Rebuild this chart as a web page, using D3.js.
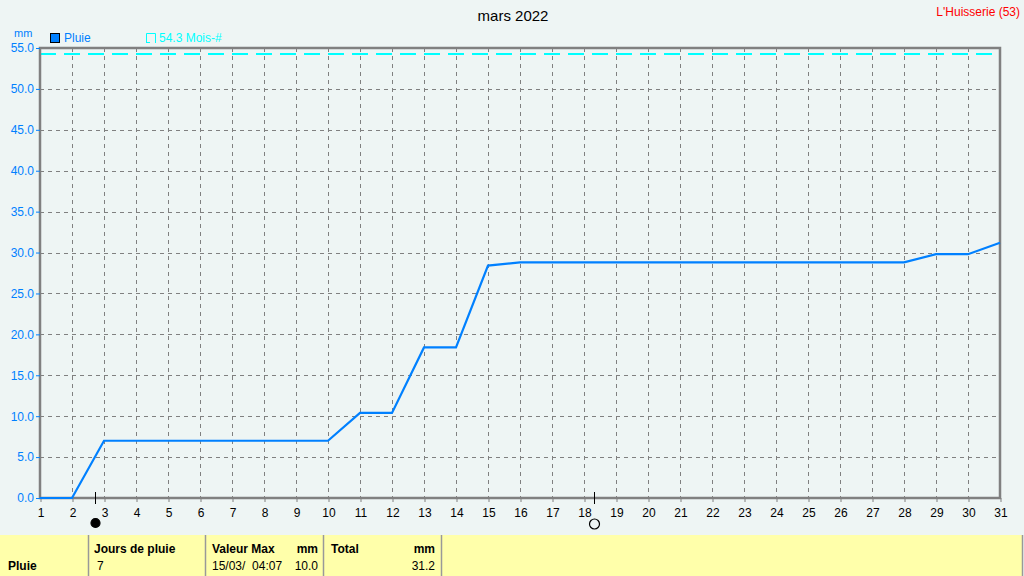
<!DOCTYPE html>
<html><head><meta charset="utf-8">
<script src="https://cdn.jsdelivr.net/npm/d3@7"></script>
<style>
html,body{margin:0;padding:0;background:#EEF5F4;}
svg{display:block;font-family:"Liberation Sans",Arial,sans-serif;}
</style></head>
<body>
<svg id="c" width="1024" height="576"></svg>
<script>
const days = d3.range(1, 32);
const rainCumul = [0.0, 0.0, 7.0, 7.0, 7.0, 7.0, 7.0, 7.0, 7.0, 7.0,
  10.4, 10.4, 18.4, 18.4, 28.4, 28.8, 28.8, 28.8, 28.8, 28.8,
  28.8, 28.8, 28.8, 28.8, 28.8, 28.8, 28.8, 28.8, 29.8, 29.8, 31.2];
const monthRef = 54.3;
const yTicks = [0, 5, 10, 15, 20, 25, 30, 35, 40, 45, 50, 55];
const newMoon = 2 + 17.6 / 24;   // 2 March 17:35
const fullMoon = 18 + 7.3 / 24;  // 18 March 07:20
const tableHeaders = ["Jours de pluie", "Valeur Max", "Total"];
const tableValues = ["7", "15/03/  04:07", "10.0", "31.2"];

const svg = d3.select("#c");
const x = d3.scaleLinear().domain([1, 31]).range([40, 1000]);
const y = d3.scaleLinear().domain([0, 55]).range([498, 48]);
const blue = "#0080FF", gridC = "#808080";

// title & station
svg.append("text").attr("x", 513).attr("y", 21).attr("text-anchor", "middle")
  .attr("font-size", 15).attr("fill", "#000").text("mars 2022");
svg.append("text").attr("x", 1020).attr("y", 16).attr("text-anchor", "end")
  .attr("font-size", 12).attr("fill", "#FF0000").text("L'Huisserie (53)");

// grid
svg.append("g").selectAll("line").data(days.filter(d => d > 1 && d < 31)).join("line")
  .attr("x1", d => x(d) + 0.5).attr("x2", d => x(d) + 0.5).attr("y1", y(55)).attr("y2", y(0))
  .attr("stroke", gridC).attr("stroke-dasharray", "4,4");
svg.append("g").selectAll("line").data(yTicks.filter(v => v > 0 && v < 55)).join("line")
  .attr("x1", x(1)).attr("x2", x(31)).attr("y1", d => Math.round(y(d)) + 0.5).attr("y2", d => Math.round(y(d)) + 0.5)
  .attr("stroke", gridC).attr("stroke-dasharray", "4,4");

// reference dashed line
svg.append("line").attr("x1", x(1)).attr("x2", x(31))
  .attr("y1", Math.round(y(monthRef))).attr("y2", Math.round(y(monthRef)))
  .attr("stroke", "#00FFFF").attr("stroke-width", 2).attr("stroke-dasharray", "16,8");

// frame
svg.append("path")
  .attr("d", `M${x(1)},${y(0)}V${y(55)}H${x(31)}V${y(0)}Z`)
  .attr("fill", "none").attr("stroke", "#808080").attr("stroke-width", 2.5);

// y axis
const yAxis = d3.axisLeft(y).tickValues(yTicks).tickFormat(d3.format(".1f")).tickSize(4).tickPadding(2);
const gy = svg.append("g").attr("transform", `translate(${x(1)},0)`).call(yAxis);
gy.select(".domain").remove();
gy.selectAll("line").attr("stroke", blue);
gy.selectAll("text").attr("fill", blue).attr("font-size", 12).attr("font-family", "Liberation Sans, Arial");

// x axis
const xAxis = d3.axisBottom(x).tickValues(days).tickFormat(d3.format("d")).tickSize(4).tickPadding(6);
const gx = svg.append("g").attr("transform", `translate(0.5,${y(0)})`).call(xAxis);
gx.select(".domain").remove();
gx.selectAll("line").attr("stroke", "#808080");
gx.selectAll("text").attr("fill", "#000").attr("font-size", 12).attr("font-family", "Liberation Sans, Arial");

// rain line
const line = d3.line().x((d, i) => x(days[i])).y(d => y(d));
svg.append("path").datum(rainCumul).attr("d", line)
  .attr("fill", "none").attr("stroke", blue).attr("stroke-width", 2.2);

// moon markers
[[newMoon, true], [fullMoon, false]].forEach(([d, filled]) => {
  const px = Math.round(x(d)) + 0.5;
  svg.append("line").attr("x1", px).attr("x2", px).attr("y1", 492).attr("y2", 504)
    .attr("stroke", "#000").attr("stroke-width", 1);
  svg.append("circle").attr("cx", px).attr("cy", filled ? 523 : 524).attr("r", filled ? 4.5 : 5)
    .attr("fill", filled ? "#000" : "none").attr("stroke", "#000").attr("stroke-width", 1.2);
});

// legend
svg.append("text").attr("x", 14).attr("y", 37).attr("font-size", 11).attr("fill", blue).text("mm");
svg.append("rect").attr("x", 50.5).attr("y", 33.5).attr("width", 9).attr("height", 9)
  .attr("fill", blue).attr("stroke", "#000");
svg.append("text").attr("x", 64).attr("y", 42).attr("font-size", 12).attr("fill", blue).text("Pluie");
svg.append("path").attr("d", "M146.5,43V33.5H155.5V43M146.5,42.5H150")
  .attr("fill", "none").attr("stroke", "#00FFFF");
svg.append("text").attr("x", 159).attr("y", 42).attr("font-size", 12).attr("fill", "#00FFFF").text(monthRef.toFixed(1) + " Mois-#");

// bottom table
svg.append("rect").attr("x", 0).attr("y", 535).attr("width", 1022).attr("height", 41).attr("fill", "#FFFFAA");
[88, 205, 323, 441, 1022].forEach(sx => {
  svg.append("line").attr("x1", sx + 0.5).attr("x2", sx + 0.5).attr("y1", 535).attr("y2", 576)
    .attr("stroke", "#999").attr("stroke-width", 1.5);
});
const tb = svg.append("g").attr("font-size", 12).attr("fill", "#000");
tb.append("text").attr("x", 8).attr("y", 570).attr("font-weight", "bold").text("Pluie");
tb.append("text").attr("x", 94).attr("y", 553).attr("font-weight", "bold").text(tableHeaders[0]);
tb.append("text").attr("x", 212).attr("y", 553).attr("font-weight", "bold").text(tableHeaders[1]);
tb.append("text").attr("x", 318).attr("y", 553).attr("font-weight", "bold").attr("text-anchor", "end").text("mm");
tb.append("text").attr("x", 331).attr("y", 553).attr("font-weight", "bold").text(tableHeaders[2]);
tb.append("text").attr("x", 435).attr("y", 553).attr("font-weight", "bold").attr("text-anchor", "end").text("mm");
tb.append("text").attr("x", 97).attr("y", 570).text(tableValues[0]);
tb.append("text").attr("x", 212).attr("y", 570).attr("xml:space", "preserve").style("white-space", "pre").text(tableValues[1]);
tb.append("text").attr("x", 318).attr("y", 570).attr("text-anchor", "end").text(tableValues[2]);
tb.append("text").attr("x", 435).attr("y", 570).attr("text-anchor", "end").text(tableValues[3]);
</script>
</body></html>
